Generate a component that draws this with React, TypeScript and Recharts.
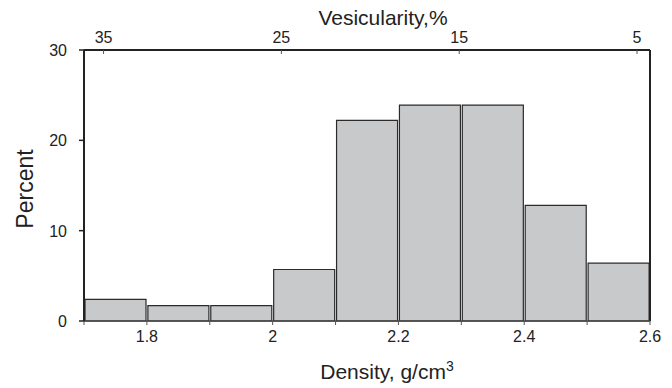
import React from 'react';
import { ComposedChart, Bar, XAxis, YAxis, ReferenceLine } from 'recharts';

const binCenters = [1.75, 1.85, 1.95, 2.05, 2.15, 2.25, 2.35, 2.45, 2.55];
const percents = [2.4, 1.7, 1.7, 5.7, 22.2, 23.9, 23.9, 12.8, 6.4];
const densityTicks = [1.7, 1.8, 1.9, 2.0, 2.1, 2.2, 2.3, 2.4, 2.5, 2.6];
const densityLabels = ['', '1.8', '', '2', '', '2.2', '', '2.4', '', '2.6'];
const vesicularityTicks = [35, 25, 15, 5];
const percentTicks = [0, 10, 20, 30];
const densityDomain = [1.7, 2.6];
const vesicularityDomain = [4.27, 36.1];
const percentDomain = [0, 30];

const data = binCenters.map((x, i) => ({ x, pct: percents[i] }));

const FONT = '"Liberation Sans", Arial, sans-serif';
const INK = '#222';

const BottomTick = (props: any) => {
  const { x, y, payload } = props;
  const idx = densityTicks.findIndex((t) => Math.abs(t - payload.value) < 1e-6);
  const label = idx >= 0 ? densityLabels[idx] : '';
  return (
    <g>
      <line x1={x} y1={y} x2={x} y2={y + 4} stroke="#555" strokeWidth={1} />
      {label ? (
        <text x={x} y={y + 21} textAnchor="middle" fontSize={16} fontFamily={FONT} fill={INK}>
          {label}
        </text>
      ) : null}
    </g>
  );
};

const TopTick = (props: any) => {
  const { x, y, payload } = props;
  return (
    <g>
      <line x1={x} y1={y} x2={x} y2={y + 4} stroke="#555" strokeWidth={1} />
      <text x={x} y={y - 7} textAnchor="middle" fontSize={16} fontFamily={FONT} fill={INK}>
        {String(payload.value)}
      </text>
    </g>
  );
};

const LeftTick = (props: any) => {
  const { x, y, payload } = props;
  return (
    <g>
      <line x1={x - 5} y1={y} x2={x} y2={y} stroke={INK} strokeWidth={1.5} />
      <text x={x - 17} y={y + 6} textAnchor="end" fontSize={16} fontFamily={FONT} fill={INK}>
        {String(payload.value)}
      </text>
    </g>
  );
};

const DensityTitle = (props: any) => {
  const vb = props.viewBox || { x: 0, y: 0, width: 0, height: 0 };
  return (
    <text x={vb.x + vb.width / 2 + 20} y={vb.y + 58} textAnchor="middle" fontSize={21} fontFamily={FONT} fill={INK}>
      Density, g/cm
      <tspan dy={-8} fontSize={14}>3</tspan>
    </text>
  );
};

const VesicularityTitle = (props: any) => {
  const vb = props.viewBox || { x: 0, y: 0, width: 0, height: 0 };
  return (
    <text x={vb.x + vb.width / 2 + 16} y={vb.y + 25} textAnchor="middle" fontSize={21} fontFamily={FONT} fill={INK}>
      Vesicularity,%
    </text>
  );
};

const PercentTitle = (props: any) => {
  const vb = props.viewBox || { x: 0, y: 0, width: 0, height: 0 };
  const cx = vb.x + 33;
  const cy = vb.y + vb.height / 2 + 3.5;
  return (
    <text x={cx} y={cy} transform={`rotate(-90 ${cx} ${cy})`} textAnchor="middle" fontSize={23} fontFamily={FONT} fill={INK}>
      Percent
    </text>
  );
};

export default function App() {
  return (
    <div style={{ position: 'absolute', left: 0, top: 0 }}>
      <ComposedChart
        width={672}
        height={388}
        data={data}
        margin={{ top: 0, right: 22, bottom: 0, left: 0 }}
        barCategoryGap={1}
      >
        <XAxis
          xAxisId="bottom"
          dataKey="x"
          type="number"
          orientation="bottom"
          domain={densityDomain}
          allowDataOverflow
          ticks={densityTicks}
          interval={0}
          height={67}
          tickSize={0}
          tickMargin={0}
          tickLine={false}
          tick={<BottomTick />}
          axisLine={{ stroke: '#444', strokeWidth: 1.5 }}
          label={<DensityTitle />}
        />
        <XAxis
          xAxisId="top"
          dataKey="x"
          type="number"
          orientation="top"
          reversed
          domain={vesicularityDomain}
          allowDataOverflow
          ticks={vesicularityTicks}
          interval={0}
          height={50}
          tickSize={0}
          tickMargin={0}
          tickLine={false}
          tick={<TopTick />}
          axisLine={{ stroke: INK, strokeWidth: 2 }}
          label={<VesicularityTitle />}
        />
        <YAxis
          yAxisId="left"
          type="number"
          domain={percentDomain}
          ticks={percentTicks}
          interval={0}
          width={84}
          tickSize={0}
          tickMargin={0}
          tickLine={false}
          tick={<LeftTick />}
          axisLine={{ stroke: INK, strokeWidth: 2 }}
          label={<PercentTitle />}
        />
        <Bar
          xAxisId="bottom"
          yAxisId="left"
          dataKey="pct"
          fill="#c8c9cb"
          stroke="#2b2b2b"
          strokeWidth={1.2}
          isAnimationActive={false}
        />
        <ReferenceLine xAxisId="bottom" yAxisId="left" x={densityDomain[1]} stroke={INK} strokeWidth={2} />
      </ComposedChart>
    </div>
  );
}
